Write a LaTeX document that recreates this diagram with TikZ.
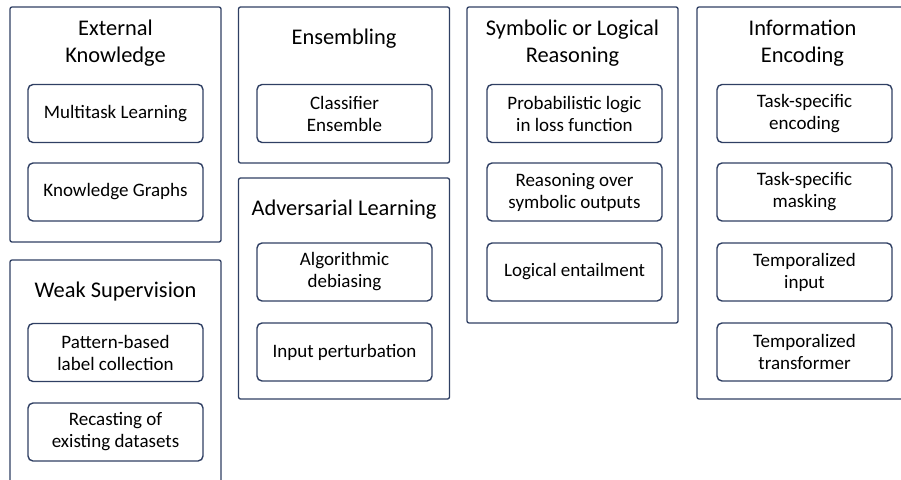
\documentclass[tikz,border=0pt]{standalone}
\usepackage{fontspec}
\setmainfont{Carlito}
\definecolor{navy}{HTML}{2F3F63}
\begin{document}
\begin{tikzpicture}[x=1pt,y=-1pt,
  outerbox/.style={draw=navy,line width=1.3pt,rounded corners=2pt,minimum width=211pt,inner sep=0pt},
  innerbox/.style={draw=navy,line width=1.4pt,rounded corners=5pt,minimum width=175pt,minimum height=58pt,inner sep=0pt,align=center,font=\fontsize{19}{22}\selectfont},
  title/.style={align=center,inner sep=0pt,font=\fontsize{22.4}{27}\selectfont}]
\useasboundingbox (0,0) rectangle (901,479);
\clip (0,0) rectangle (901,479);
% External Knowledge
\node[outerbox,minimum height=235pt] (ek) at (115.5,124.5) {};
\node[title] (ekt) at (115.5,43) {External\\Knowledge};
\node[innerbox] (ek1) at (115.5,113.5) {Multitask Learning};
\node[innerbox] (ek2) at (115.5,192) {Knowledge Graphs};
% Weak Supervision
\node[outerbox,minimum height=240pt] (ws) at (115.5,380) {};
\node[title] (wst) at (115.5,291.5) {Weak Supervision};
\node[innerbox] (ws1) at (115.5,352.5) {Pattern-based\\label collection};
\node[innerbox] (ws2) at (115.5,432) {Recasting of\\existing datasets};
% Ensembling
\node[outerbox,minimum height=156pt] (en) at (344,85) {};
\node[title] (ent) at (344,38.5) {Ensembling};
\node[innerbox] (en1) at (344.5,113.5) {Classifier\\Ensemble};
% Adversarial Learning
\node[outerbox,minimum height=221pt] (ad) at (344,288.5) {};
\node[title] (adt) at (344,209.5) {Adversarial Learning};
\node[innerbox] (ad1) at (344.5,272) {Algorithmic\\debiasing};
\node[innerbox] (ad2) at (344.5,352) {Input perturbation};
% Symbolic or Logical Reasoning
\node[outerbox,minimum height=316pt] (sl) at (572.5,165) {};
\node[title] (slt) at (572.5,43) {Symbolic or Logical\\Reasoning};
\node[innerbox] (sl1) at (574.5,113.5) {Probabilistic logic\\in loss function};
\node[innerbox] (sl2) at (574.5,192) {Reasoning over\\symbolic outputs};
\node[innerbox] (sl3) at (574.5,272) {Logical entailment};
% Information Encoding
\node[outerbox,minimum height=392pt] (ie) at (802.5,203) {};
\node[title] (iet) at (802.5,43) {Information\\Encoding};
\node[innerbox] (ie1) at (804.5,113.5) {Task-specific\\encoding};
\node[innerbox] (ie2) at (804.5,192) {Task-specific\\masking};
\node[innerbox] (ie3) at (804.5,272) {Temporalized\\input};
\node[innerbox] (ie4) at (804.5,352) {Temporalized\\transformer};
\end{tikzpicture}
\end{document}
